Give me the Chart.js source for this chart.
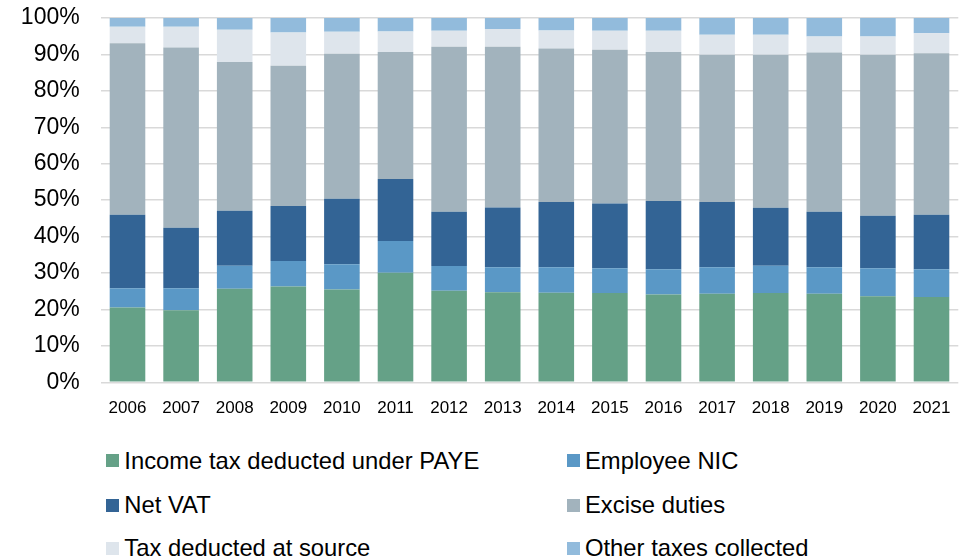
<!DOCTYPE html>
<html>
<head>
<meta charset="utf-8">
<script src="https://cdn.jsdelivr.net/npm/chart.js@4.4.0/dist/chart.umd.min.js"></script>
<style>
  body { margin:0; background:#fff; font-family:"Liberation Sans", Arial, sans-serif; }
  #wrap { position:relative; width:969px; height:560px; overflow:hidden; }
  #canvas { position:absolute; left:0; top:0; }
  .item { position:absolute; height:30px; line-height:30px; font-size:23.8px; color:#000; white-space:nowrap; }
  .box { position:absolute; width:12.5px; height:13px; top:8.5px; left:0; }
  .txt { position:absolute; left:18px; top:0; }
</style>
</head>
<body>
<div id="wrap">
  <canvas id="canvas" width="969" height="430"></canvas>
  <div id="legend"></div>
</div>
<script>
// share of receipts by tax, % of total
var years = ['2006','2007','2008','2009','2010','2011','2012','2013','2014','2015','2016','2017','2018','2019','2020','2021'];

var payeIncomeTax = [20.5, 19.8, 25.7, 26.3, 25.5, 30.1, 25.1, 24.7, 24.6, 24.5, 24.1, 24.3, 24.5, 24.3, 23.6, 23.4];
var employeeNic   = [ 5.3,  6.0,  6.3,  7.0,  6.9,  8.7,  6.8,  6.9,  7.0,  6.8,  6.9,  7.3,  7.5,  7.3,  7.7,  7.6];
var netVat        = [20.2, 16.6, 15.1, 15.1, 18.0, 17.0, 14.9, 16.4, 17.9, 17.8, 18.8, 17.9, 15.9, 15.2, 14.4, 15.0];
var exciseDuties  = [47.1, 49.5, 40.8, 38.5, 39.8, 34.9, 45.3, 44.1, 42.1, 42.2, 40.9, 40.4, 42.0, 43.7, 44.2, 44.3];
var taxAtSource   = [ 4.5,  5.7,  8.9,  9.1,  6.0,  5.6,  4.4,  4.9,  5.0,  5.2,  5.8,  5.5,  5.5,  4.4,  5.0,  5.5];
var otherTaxes    = [ 2.4,  2.4,  3.2,  4.0,  3.8,  3.7,  3.5,  3.0,  3.4,  3.5,  3.5,  4.6,  4.6,  5.1,  5.1,  4.2];

var seriesNames  = ['Income tax deducted under PAYE', 'Employee NIC', 'Net VAT', 'Excise duties', 'Tax deducted at source', 'Other taxes collected'];
var seriesData   = [payeIncomeTax, employeeNic, netVat, exciseDuties, taxAtSource, otherTaxes];
var seriesColors = ['#65a187', '#5a98c6', '#336495', '#a2b3bd', '#dee5ec', '#92bbdc'];

var datasets = [];
for (var i = 0; i < seriesNames.length; i++) {
  datasets.push({
    label: seriesNames[i],
    data: seriesData[i],
    backgroundColor: seriesColors[i],
    borderWidth: 0,
    barPercentage: 1,
    categoryPercentage: 0.664
  });
}

var ctx = document.getElementById('canvas').getContext('2d');
var chart = new Chart(ctx, {
  type: 'bar',
  data: { labels: years, datasets: datasets },
  options: {
    responsive: false,
    animation: false,
    events: [],
    layout: { padding: { left: 0, right: 10.7, top: 18, bottom: 0 } },
    plugins: { legend: { display: false }, tooltip: { enabled: false } },
    scales: {
      x: {
        stacked: true,
        grid: { display: false, drawTicks: false },
        border: { display: false },
        ticks: { color: '#000', font: { family: 'Liberation Sans', size: 17 }, padding: 16, maxRotation: 0 },
        afterFit: function(scale) {
          scale.height = 47.7;
          scale.paddingLeft = 0;
          scale.paddingRight = 0;
        }
      },
      y: {
        stacked: true,
        min: 0,
        max: 100,
        grid: { color: '#d9d9d9', lineWidth: 1.5, drawTicks: false },
        border: { display: false },
        ticks: {
          stepSize: 10,
          color: '#000',
          font: { family: 'Liberation Sans', size: 23 },
          padding: 21,
          callback: function(v) { return v + '%'; }
        },
        afterFit: function(scale) {
          scale.width = 100.7;
          // keep the top gridline where the reference has it
          scale.paddingTop = 0;
          scale.paddingBottom = 0;
        }
      }
    }
  }
});

// two column legend under the chart
function buildLegend() {
  var legend = document.getElementById('legend');
  var colX = [106.3, 567];
  var rowY = [460.7, 505, 548.3];
  for (var i = 0; i < seriesNames.length; i++) {
    var item = document.createElement('div');
    item.className = 'item';
    item.style.left = colX[i % 2] + 'px';
    item.style.top = (rowY[Math.floor(i / 2)] - 15) + 'px';
    var box = document.createElement('span');
    box.className = 'box';
    box.style.background = seriesColors[i];
    var txt = document.createElement('span');
    txt.className = 'txt';
    txt.textContent = seriesNames[i];
    item.appendChild(box);
    item.appendChild(txt);
    legend.appendChild(item);
  }
}
buildLegend();
</script>
</body>
</html>
